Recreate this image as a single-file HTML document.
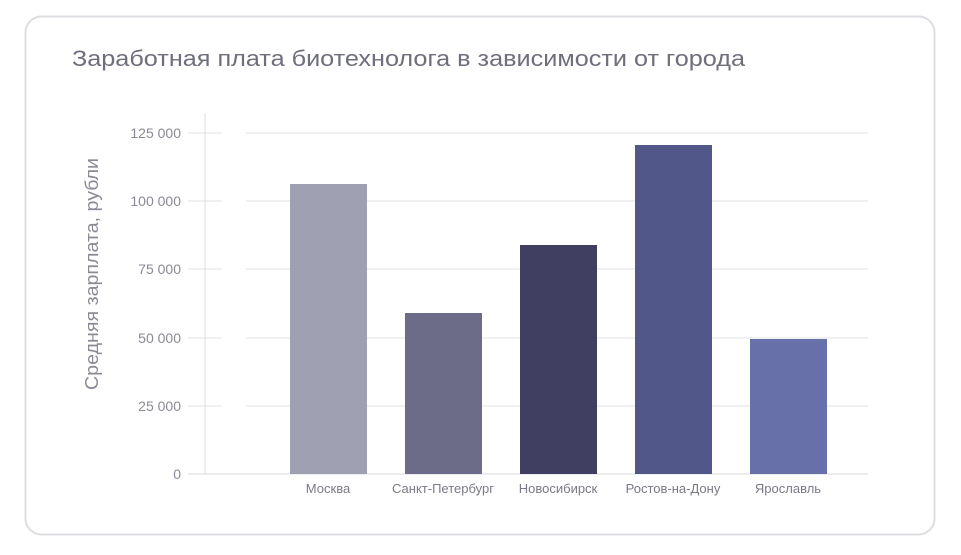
<!DOCTYPE html><html><head><meta charset="utf-8"><style>
body{margin:0;background:#fff;width:961px;height:550px;overflow:hidden;font-family:"Liberation Sans",sans-serif}
</style></head><body>
<svg width="961" height="550" xmlns="http://www.w3.org/2000/svg" font-family="Liberation Sans, sans-serif">
<rect x="25.5" y="16.5" width="909" height="518" rx="16" fill="#fff" stroke="#dedee2" stroke-width="2"/>
<text x="72" y="66" font-size="22" fill="#6e6e7c" textLength="673" lengthAdjust="spacingAndGlyphs">Заработная плата биотехнолога в зависимости от города</text>
<g stroke="#e6e6ec" stroke-width="1.3">
<line x1="188" x2="222" y1="133" y2="133"/><line x1="246" x2="868" y1="133" y2="133"/>
<line x1="188" x2="222" y1="201" y2="201"/><line x1="246" x2="868" y1="201" y2="201"/>
<line x1="188" x2="222" y1="269" y2="269"/><line x1="246" x2="868" y1="269" y2="269"/>
<line x1="188" x2="222" y1="338" y2="338"/><line x1="246" x2="868" y1="338" y2="338"/>
<line x1="188" x2="222" y1="406" y2="406"/><line x1="246" x2="868" y1="406" y2="406"/>
</g>
<line x1="205" x2="205" y1="113" y2="474" stroke="#dcdce2"/>
<line x1="188" x2="868" y1="474" y2="474" stroke="#d8d8de"/>
<g font-size="14" fill="#8a8a96" text-anchor="end">
<text x="181" y="138">125 000</text><text x="181" y="206">100 000</text><text x="181" y="274">75 000</text><text x="181" y="343">50 000</text><text x="181" y="411">25 000</text><text x="181" y="479">0</text>
</g>
<text transform="translate(98,274) rotate(-90)" font-size="18" fill="#8a8a96" text-anchor="middle" textLength="232" lengthAdjust="spacingAndGlyphs">Средняя зарплата, рубли</text>
<rect x="290" y="184" width="77" height="290" fill="#9fa0b2"/>
<rect x="405" y="313" width="77" height="161" fill="#6c6c88"/>
<rect x="520" y="245" width="77" height="229" fill="#403f62"/>
<rect x="635" y="145" width="77" height="329" fill="#525789"/>
<rect x="750" y="339" width="77" height="135" fill="#6870aa"/>
<g font-size="13" fill="#7a7a86" text-anchor="middle">
<text x="328" y="493">Москва</text><text x="443" y="493">Санкт-Петербург</text><text x="558" y="493">Новосибирск</text><text x="673" y="493">Ростов-на-Дону</text><text x="788" y="493">Ярославль</text>
</g>
</svg>
</body></html>
